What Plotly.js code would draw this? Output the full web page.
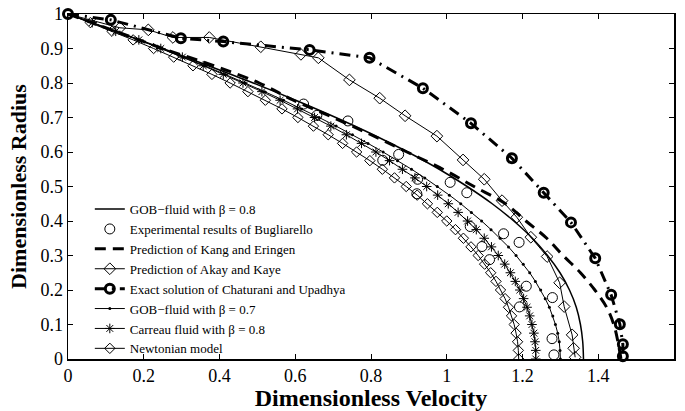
<!DOCTYPE html>
<html>
<head>
<meta charset="utf-8">
<script src="https://cdn.plot.ly/plotly-3.0.1.min.js"></script>
<style>html,body{margin:0;padding:0;background:#fff;}#chart{width:685px;height:411px;}</style>
</head>
<body>
<div id="chart"></div>
<script>
// Radius grid used by the densely marked model curves
const rGrid = [1,0.975,0.95,0.925,0.9,0.875,0.85,0.825,0.8,0.775,0.75,0.725,0.7,0.675,0.65,0.625,0.6,0.575,0.55,0.525,0.5,0.475,0.45,0.425,0.4,0.375,0.35,0.325,0.3,0.275,0.25,0.225,0.2,0.175,0.15,0.125,0.1,0.075,0.05,0.025,0];

const newtonianV = [0,0.059,0.116,0.172,0.226,0.279,0.330,0.380,0.428,0.475,0.521,0.565,0.607,0.648,0.687,0.725,0.762,0.797,0.830,0.862,0.893,0.922,0.949,0.975,1.000,1.023,1.044,1.064,1.083,1.100,1.116,1.130,1.142,1.154,1.163,1.171,1.178,1.183,1.187,1.189,1.190];
const gob07V = [0,0.064,0.127,0.188,0.247,0.305,0.361,0.415,0.468,0.519,0.569,0.617,0.663,0.708,0.751,0.792,0.832,0.870,0.907,0.942,0.975,1.007,1.037,1.065,1.092,1.117,1.141,1.163,1.183,1.202,1.219,1.234,1.248,1.260,1.271,1.280,1.287,1.293,1.297,1.299,1.300];
const carreauV = [0,0.064,0.126,0.187,0.245,0.302,0.357,0.410,0.462,0.512,0.560,0.606,0.651,0.694,0.735,0.775,0.813,0.849,0.883,0.916,0.947,0.976,1.004,1.030,1.055,1.078,1.099,1.118,1.136,1.153,1.168,1.181,1.193,1.203,1.212,1.219,1.225,1.230,1.233,1.235,1.235];

// Coarser radius grid for the unmarked curves
const rCoarse = [1,0.95,0.9,0.85,0.8,0.75,0.7,0.65,0.6,0.55,0.5,0.45,0.4,0.35,0.3,0.25,0.2,0.15,0.1,0.05,0];
const gob08V = [0,0.126,0.250,0.371,0.489,0.601,0.707,0.806,0.897,0.980,1.054,1.120,1.177,1.226,1.266,1.299,1.324,1.342,1.353,1.359,1.361];
const kangV = [0,0.125,0.25,0.385,0.505,0.595,0.70,0.80,0.895,0.99,1.072,1.155,1.209,1.264,1.307,1.353,1.391,1.422,1.441,1.452,1.46];

// Experimental results of Bugliarello
const expV = [0.622,0.657,0.739,0.831,0.873,0.923,0.921,1.009,1.053,1.062,1.093,1.113,1.150,1.191,1.210,1.192,1.279,1.278,1.283];
const expR = [0.739,0.706,0.690,0.576,0.593,0.521,0.479,0.512,0.482,0.384,0.326,0.288,0.363,0.338,0.211,0.151,0.178,0.059,0.012];

// Prediction of Akay and Kaye
const akayV = [0,0.137,0.212,0.277,0.373,0.509,0.615,0.661,0.743,0.823,0.890,0.974,1.043,1.099,1.146,1.185,1.222,1.265,1.298,1.310,1.331,1.335,1.339];
const akayR = [1,0.960,0.954,0.932,0.932,0.905,0.883,0.873,0.809,0.756,0.705,0.646,0.577,0.521,0.459,0.411,0.353,0.297,0.221,0.152,0.070,0.031,0.005];

// Exact solution of Chaturani and Upadhya
const chatV = [0,0.113,0.298,0.410,0.638,0.796,0.937,1.064,1.172,1.256,1.328,1.392,1.434,1.457,1.465,1.465];
const chatR = [1,0.983,0.930,0.920,0.896,0.873,0.785,0.683,0.582,0.482,0.396,0.292,0.186,0.101,0.043,0.008];

const xTicks = [0,0.2,0.4,0.6,0.8,1,1.2,1.4,1.6];
const xTickText = ['0','0.2','0.4','0.6','0.8','1','1.2','1.4','1.6'];
const yTicks = [0,0.1,0.2,0.3,0.4,0.5,0.6,0.7,0.8,0.9,1];
const yTickText = ['0','0.1','0.2','0.3','0.4','0.5','0.6','0.7','0.8','0.9','1'];

const names = ['GOB\u2212fluid with \u03b2 = 0.8','Experimental results of Bugliarello','Prediction of Kang and Eringen','Prediction of Akay and Kaye','Exact solution of Chaturani and Upadhya','GOB\u2212fluid with \u03b2 = 0.7','Carreau fluid with \u03b2 = 0.8','Newtonian model'];

const traces = [
  {x: gob08V, y: rCoarse, name: names[0], mode: 'lines', line: {color: '#000', width: 1.5, shape: 'spline'}},
  {x: expV, y: expR, name: names[1], mode: 'markers', marker: {symbol: 'circle-open', size: 10, color: '#000', line: {width: 1, color: '#000'}}},
  {x: kangV, y: rCoarse, name: names[2], mode: 'lines', line: {color: '#000', width: 3, dash: '11px,7px', shape: 'spline'}},
  {x: akayV, y: akayR, name: names[3], mode: 'lines+markers', line: {color: '#000', width: 1}, marker: {symbol: 'diamond-open', size: 9, color: '#000', line: {width: 1, color: '#000'}}},
  {x: chatV, y: chatR, name: names[4], mode: 'lines+markers', cliponaxis: false, line: {color: '#000', width: 3, dash: '11px,6px,2px,6px'}, marker: {symbol: 'circle-open', size: 9, color: '#000', line: {width: 3, color: '#000'}}},
  {x: gob07V, y: rGrid, name: names[5], mode: 'lines+markers', line: {color: '#000', width: 1}, marker: {symbol: 'circle', size: 3, color: '#000'}},
  {x: carreauV, y: rGrid, name: names[6], mode: 'lines+markers', line: {color: '#000', width: 1}, marker: {symbol: 'asterisk-open', size: 8, color: '#000', line: {width: 1, color: '#000'}}},
  {x: newtonianV, y: rGrid, name: names[7], mode: 'lines+markers', line: {color: '#000', width: 1}, marker: {symbol: 'diamond-open', size: 8, color: '#000', line: {width: 1, color: '#000'}}}
];

const serif = 'Liberation Serif, Times New Roman, serif';
const layout = {
  width: 685, height: 411,
  margin: {l: 68, r: 11, t: 14, b: 52},
  paper_bgcolor: '#fff', plot_bgcolor: '#fff',
  showlegend: true,
  legend: {x: 0.036, y: 0.478, xanchor: 'left', yanchor: 'top', bgcolor: 'rgba(0,0,0,0)', borderwidth: 0,
           font: {family: serif, size: 13, color: '#000'}, tracegroupgap: 0, itemwidth: 30},
  xaxis: {range: [0, 1.6], tickvals: xTicks, ticktext: xTickText, ticks: 'inside', ticklen: 5, tickcolor: '#000',
          showline: true, linecolor: '#000', linewidth: 1.5, mirror: 'ticks', showgrid: false, zeroline: false,
          tickfont: {family: serif, size: 18, color: '#000'},
          title: {text: 'Dimensionless Velocity', font: {family: serif, size: 24, color: '#000', weight: 'bold'}, standoff: 5}},
  yaxis: {range: [0, 1], tickvals: yTicks, ticktext: yTickText, ticks: 'inside', ticklen: 5, tickcolor: '#000',
          showline: true, linecolor: '#000', linewidth: 1.5, mirror: 'ticks', showgrid: false, zeroline: false,
          tickfont: {family: serif, size: 18, color: '#000'},
          title: {text: 'Dimensionless Radius', font: {family: serif, size: 22, color: '#000', weight: 'bold'}, standoff: 7}}
};

Plotly.newPlot('chart', traces, layout, {displayModeBar: false, staticPlot: true});
</script>
</body>
</html>
